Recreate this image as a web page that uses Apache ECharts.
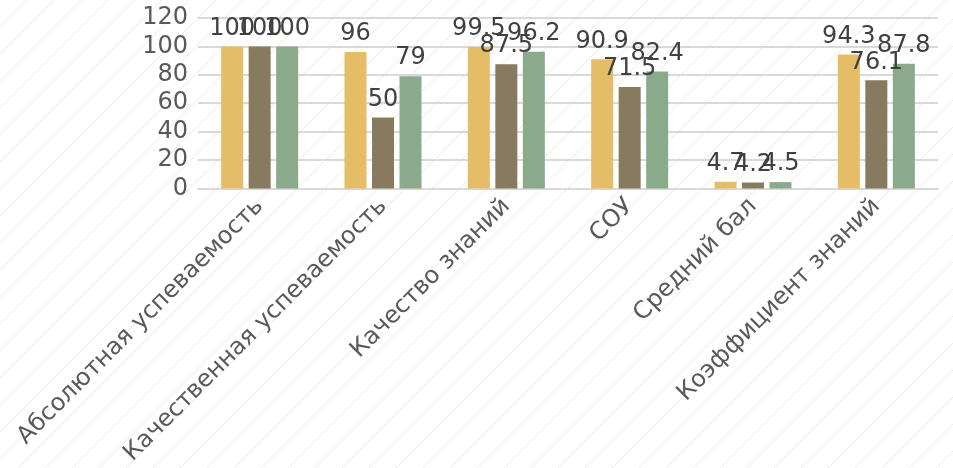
<!DOCTYPE html>
<html><head><meta charset="utf-8">
<script src="https://cdn.jsdelivr.net/npm/echarts@6/dist/echarts.min.js"></script>
<style>html,body{margin:0;padding:0;background:#fff}#c{width:953px;height:468px}</style>
</head><body><div id="c"></div>
<script>
const categories = ['Абсолютная успеваемость','Качественная успеваемость','Качество знаний','СОУ','Средний бал','Коэффициент знаний'];
const seriesNames = ['Ряд 1','Ряд 2','Ряд 3'];
const series1 = [100, 96, 99.5, 90.9, 4.7, 94.3];
const series2 = [100, 50, 87.5, 71.5, 4.2, 76.1];
const series3 = [100, 79, 96.2, 82.4, 4.5, 87.8];
const yTicks = {min: 0, max: 120, interval: 20};
const colors = ['#E5BD66', '#887A5E', '#8BAA8C'];

const tile = document.createElement('canvas');
const T = 27;
tile.width = T; tile.height = T;
const tc = tile.getContext('2d');
tc.fillStyle = '#ffffff'; tc.fillRect(0,0,T,T);
tc.strokeStyle = '#EEEBDC'; tc.lineWidth = 1;
tc.beginPath();
tc.moveTo(-2, T+2); tc.lineTo(T+2, -2);
tc.moveTo(-2, 2); tc.lineTo(2, -2);
tc.moveTo(T-2, T+2); tc.lineTo(T+2, T-2);
tc.stroke();

const chart = echarts.init(document.getElementById('c'), null, {renderer: 'canvas'});
const font = 'DejaVu Sans';
const mk = (name, data, color) => ({
  name, type: 'bar', data, barWidth: 22, barGap: '25%',
  itemStyle: {color},
  label: {show: true, position: 'top', distance: 6, color: '#404040', fontSize: 24, fontFamily: font},
});
chart.setOption({
  backgroundColor: {image: tile, repeat: 'repeat'},
  animation: false,
  grid: {left: 198, right: 15, top: 18, bottom: 279, containLabel: false},
  xAxis: {
    type: 'category', data: categories,
    axisLine: {show: true, lineStyle: {color: '#D9D9D9', width: 2}},
    axisTick: {show: false},
    axisLabel: {rotate: 45, interval: 0, color: '#595959', fontSize: 24, fontFamily: font, margin: 14}
  },
  yAxis: {
    type: 'value', min: yTicks.min, max: yTicks.max, interval: yTicks.interval,
    axisLine: {show: false}, axisTick: {show: false},
    splitLine: {lineStyle: {color: '#D9D9D9', width: 2}},
    axisLabel: {color: '#595959', fontSize: 24, fontFamily: font, margin: 10}
  },
  series: [mk(seriesNames[0], series1, colors[0]), mk(seriesNames[1], series2, colors[1]), mk(seriesNames[2], series3, colors[2])]
});
</script></body></html>
